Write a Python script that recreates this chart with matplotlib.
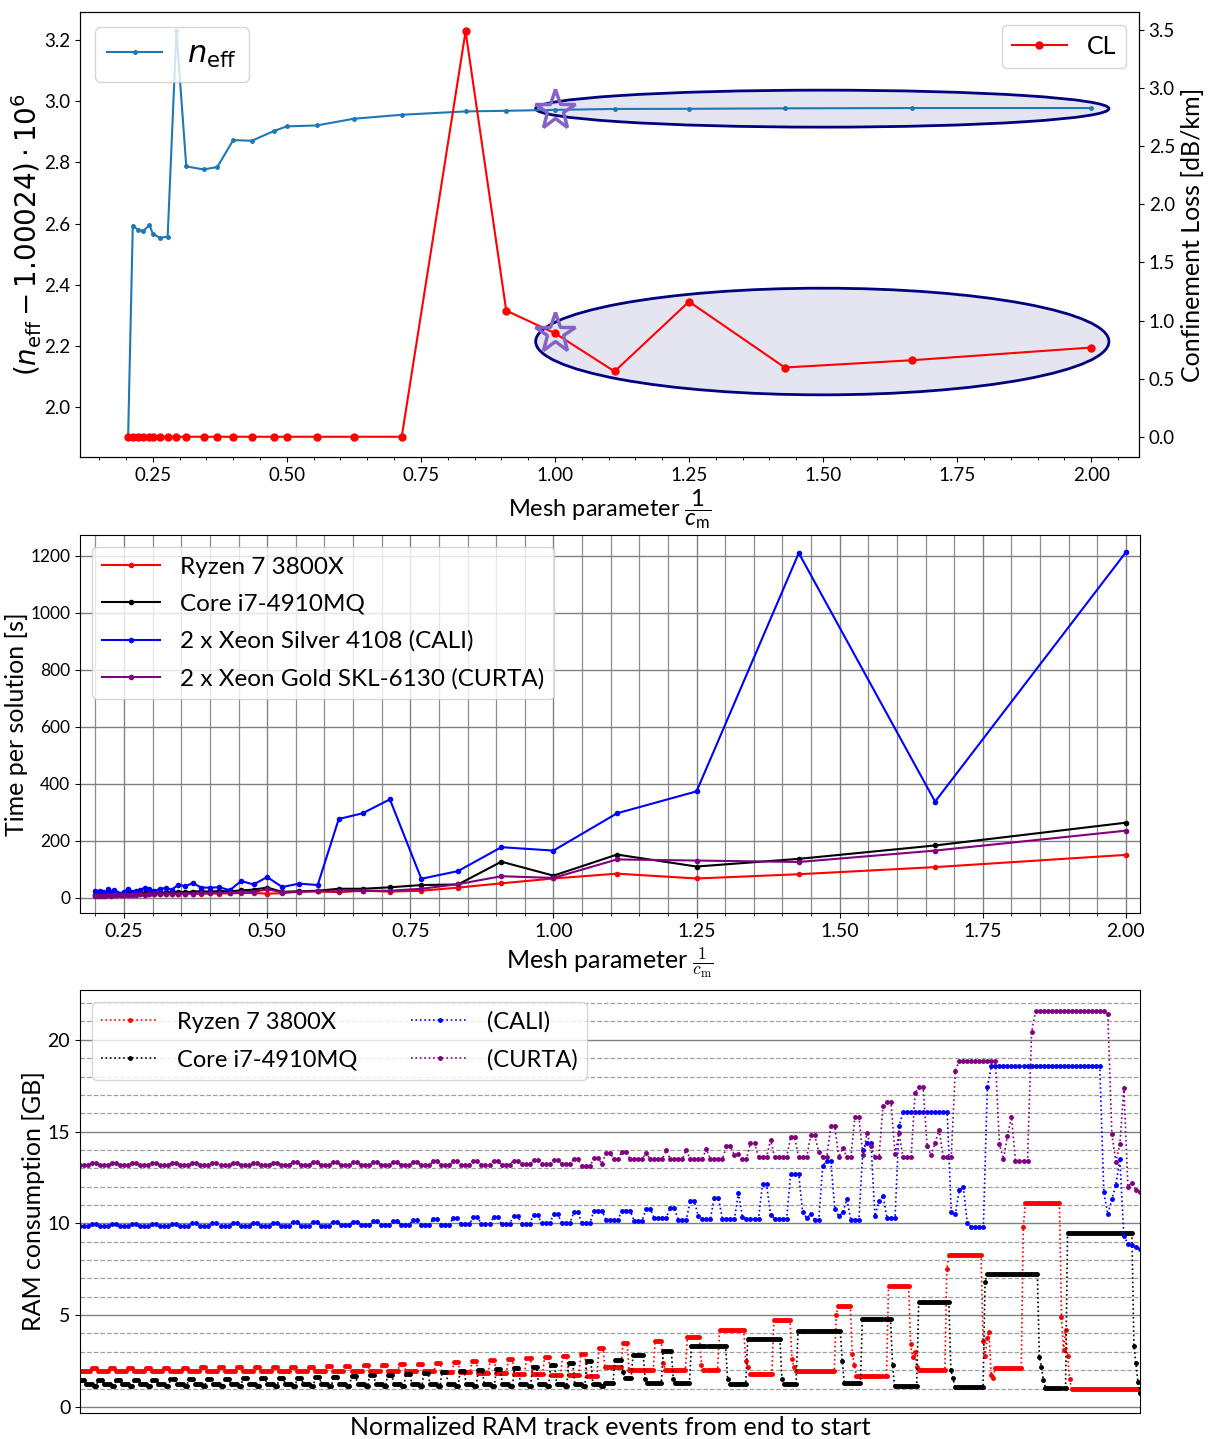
import numpy as np
import matplotlib
matplotlib.use("Agg")
import matplotlib.pyplot as plt
from matplotlib.patches import Ellipse
from matplotlib.ticker import MultipleLocator
from matplotlib.font_manager import FontProperties

plt.rcParams['font.family'] = ['Lato', 'DejaVu Sans']
plt.rcParams['mathtext.fontset'] = 'custom'
plt.rcParams['mathtext.rm'] = 'Lato'
plt.rcParams['mathtext.it'] = 'Lato:italic'
plt.rcParams['mathtext.bf'] = 'Lato:bold'

# ---------------- convergence study ----------------
cm_conv = [4.9, 4.7, 4.5, 4.3, 4.1, 4.0, 3.8, 3.6, 3.4, 3.2, 2.9, 2.7, 2.5, 2.3,
           2.1, 2.0, 1.8, 1.6, 1.4, 1.2, 1.1, 1.0, 0.9, 0.8, 0.7, 0.6, 0.5]
neff_shift = [1.904, 2.593, 2.580, 2.576, 2.595, 2.567, 2.553, 2.557, 3.230,
              2.787, 2.777, 2.785, 2.873, 2.871, 2.903, 2.918, 2.921, 2.943,
              2.956, 2.967, 2.969, 2.972, 2.975, 2.9755, 2.977, 2.978, 2.978]
cl_db_km = [0.0] * 19 + [3.49, 1.086, 0.891, 0.562, 1.163, 0.596, 0.659, 0.768]

# ---------------- benchmark: time per solution ----------------
cm_bench = [5.0, 4.9, 4.8, 4.7, 4.6, 4.5, 4.4, 4.3, 4.2, 4.1,
            4.0, 3.9, 3.8, 3.7, 3.6, 3.5, 3.4, 3.3, 3.2, 3.1,
            3.0, 2.9, 2.8, 2.7, 2.6, 2.5, 2.4, 2.3, 2.2, 2.1,
            2.0, 1.9, 1.8, 1.7, 1.6, 1.5, 1.4, 1.3, 1.2, 1.1,
            1.0, 0.9, 0.8, 0.7, 0.6, 0.5]
t_ryzen = [8, 8, 9, 8, 9, 9, 10, 9, 10, 10,
           10, 11, 10, 11, 12, 11, 12, 12, 13, 12,
           13, 13, 14, 13, 14, 15, 14, 15, 16, 16,
           14, 15, 21, 22, 19, 24, 21, 24, 35, 50,
           67, 84, 67, 82, 107, 150]
t_core = [10, 11, 10, 12, 11, 13, 12, 12, 13, 14,
          14, 15, 14, 16, 15, 17, 16, 18, 17, 18,
          19, 20, 19, 21, 22, 21, 23, 22, 25, 28,
          35, 20, 22, 24, 31, 31, 36, 44, 46, 126,
          77, 151, 109, 136, 183, 263]
t_cali = [22, 20, 22, 18, 15, 31, 20, 25, 15, 14,
          18, 31, 20, 22, 25, 35, 30, 22, 31, 33,
          28, 45, 40, 51, 35, 35, 36, 26, 58, 46,
          72, 37, 49, 44, 276, 296, 345, 66, 93, 177,
          165, 296, 373, 1210, 337, 1213]
t_curta = [6, 7, 6, 7, 7, 8, 7, 8, 8, 9,
           9, 9, 10, 10, 11, 10, 11, 12, 12, 12,
           13, 13, 14, 14, 15, 15, 16, 17, 18, 20,
           29, 19, 21, 22, 22, 24, 24, 31, 47, 75,
           69, 134, 130, 125, 165, 235]

# ---------------- RAM tracks (run-length encoded: level [GB], samples) ----------------
# early, small solves: repeated low plateau / short peak
ram_ryzen_left_base = [1.95] * 20 + [1.9, 1.9, 1.85, 1.85, 1.8, 1.8, 1.75, 1.75, 1.7]
ram_ryzen_left_peak = [2.12, 2.12, 2.13, 2.13, 2.14, 2.14, 2.15, 2.15, 2.16, 2.17,
                       2.18, 2.2, 2.2, 2.22, 2.25, 2.28, 2.3, 2.33, 2.36, 2.4,
                       2.45, 2.5, 2.55, 2.6, 2.65, 2.7, 2.8, 2.9, 3.2]
ram_core_left_peak = [1.45, 1.45, 1.46, 1.47, 1.48, 1.5, 1.5, 1.5, 1.52, 1.55,
                      1.55, 1.58, 1.6, 1.62, 1.65, 1.7, 1.72, 1.75, 1.8, 1.85,
                      1.9, 1.95, 2.0, 2.05, 2.1, 2.2, 2.3, 2.4, 2.5]
ram_core_left_base = [1.25] * 29
ram_core_left_dip = [1.12] * 29
ram_cali_left_base = [9.85, 9.85, 9.85, 9.85, 9.86, 9.86, 9.86, 9.87, 9.87, 9.87,
                      9.88, 9.88, 9.88, 9.9, 9.9, 9.9, 9.92, 9.92, 9.93, 9.95,
                      9.95, 9.97, 9.98, 10.0, 10.0, 10.0]
ram_cali_left_peak = [9.97, 9.97, 9.98, 9.98, 9.99, 10.0, 10.0, 10.0, 10.02, 10.03,
                      10.05, 10.05, 10.08, 10.1, 10.12, 10.15, 10.2, 10.25, 10.3, 10.35,
                      10.35, 10.4, 10.45, 10.5, 10.6, 10.7]
ram_curta_left_base = [13.18] * 20 + [13.2, 13.2, 13.22, 13.22, 13.25, 13.1]
ram_curta_left_peak = [13.28, 13.28, 13.28, 13.29, 13.29, 13.3, 13.3, 13.3, 13.31, 13.31,
                       13.32, 13.32, 13.33, 13.34, 13.35, 13.36, 13.37, 13.38, 13.39, 13.4,
                       13.41, 13.42, 13.43, 13.45, 13.5, 13.55]

# later, large solves
ram_ryzen_lvl = [2.2, 3.5, 2.0, 3.6, 2.4, 2.0, 3.8, 2.3, 2.0, 4.2, 2.5, 2.2, 1.8, 4.75,
                 2.6, 2.2, 1.95, 5.0, 5.5, 2.9, 2.3, 1.7, 6.6, 3.4, 2.7, 3.0, 2.2, 2.0,
                 7.5, 8.3, 3.6, 2.75, 3.75, 4.1, 1.75, 1.55, 2.1, 9.8, 11.1, 4.9, 3.1,
                 4.2, 2.8, 1.5, 1.0, 0.75]
ram_ryzen_cnt = [9, 3, 13, 4, 1, 11, 7, 1, 8, 13, 1, 1, 12, 9,
                 1, 1, 20, 1, 7, 1, 1, 16, 11, 1, 1, 1, 1, 14,
                 1, 17, 1, 1, 1, 1, 1, 1, 14, 1, 18, 1, 1,
                 1, 1, 1, 34, 1]
ram_core_lvl = [1.3, 2.55, 1.9, 1.6, 2.85, 1.5, 1.3, 3.05, 1.5, 1.3, 3.3, 1.5, 1.25,
                3.7, 1.5, 1.25, 4.15, 2.5, 1.3, 4.8, 2.3, 1.15, 5.7, 2.0, 1.6, 1.1,
                6.8, 7.25, 2.7, 2.2, 1.45, 1.05, 9.5, 3.3, 2.4, 1.35, 0.75]
ram_core_cnt = [5, 4, 1, 4, 6, 1, 8, 5, 1, 8, 18, 1, 9,
                17, 1, 7, 22, 1, 9, 15, 1, 12, 16, 1, 1, 15,
                1, 26, 1, 1, 1, 11, 33, 1, 1, 1, 1]
ram_cali_lvl = [10.7, 10.2, 10.7, 10.15, 10.8, 10.3, 10.85, 10.2, 11.2, 10.4, 10.25,
                11.4, 10.25, 11.65, 10.35, 10.25, 12.15, 10.45, 10.25, 12.7, 10.6,
                10.3, 10.5, 10.2, 13.15, 13.4, 10.8, 10.4, 10.6, 11.3, 10.2, 14.0,
                14.4, 10.4, 11.2, 11.5, 10.3, 15.3, 16.05, 10.6, 10.5, 11.8, 12.0,
                10.0, 9.8, 17.45, 18.55, 11.7, 10.5, 11.3, 12.1, 13.5, 9.3, 8.9,
                8.8, 8.7, 8.6]
ram_cali_cnt = [1, 4, 3, 3, 2, 4, 2, 3, 2, 1, 3,
                2, 4, 1, 1, 4, 2, 1, 4, 3, 1,
                1, 1, 2, 1, 2, 1, 1, 1, 1, 3, 1,
                2, 1, 1, 1, 3, 1, 12, 1, 1, 1, 1,
                1, 4, 1, 28, 1, 1, 1, 1, 1, 1, 1,
                1, 1, 1]
ram_curta_lvl = [13.25, 13.85, 13.5, 13.9, 13.5, 13.85, 13.5, 13.97, 13.5, 14.0, 13.5,
                 14.06, 13.5, 14.2, 13.7, 13.8, 13.5, 14.4, 13.6, 14.55, 13.6, 14.7,
                 13.6, 14.8, 13.9, 13.6, 15.3, 13.6, 14.1, 13.6, 15.8, 13.7, 14.9,
                 14.2, 13.6, 16.4, 16.6, 13.8, 14.9, 13.6, 17.1, 17.45, 14.2, 13.7,
                 14.4, 15.1, 13.6, 18.3, 18.85, 14.3, 13.5, 14.77, 15.8, 13.4, 20.4,
                 21.55, 21.4, 14.86, 13.37, 14.3, 17.4, 12.0, 12.2, 11.8, 11.7]
ram_curta_cnt = [1, 2, 2, 2, 4, 1, 4, 1, 4, 1, 4,
                 1, 4, 2, 1, 1, 2, 2, 3, 1, 4, 2,
                 3, 2, 1, 2, 2, 1, 1, 2, 2, 1, 1,
                 1, 2, 1, 2, 1, 1, 3, 1, 2, 1, 1,
                 1, 1, 3, 1, 10, 1, 1, 1, 1, 4, 1,
                 18, 1, 1, 1, 1, 1, 1, 1, 1, 1]


def ram_track(left_cycles, lvl, cnt):
    levels, counts = [], []
    for cycle in left_cycles:
        for level, n in cycle:
            levels.append(level)
            counts.append(n)
    levels += lvl
    counts += cnt
    y = np.repeat(levels, counts)
    return np.linspace(0.0, 1.0, len(y)), y


ryzen_cycles = [[(b, 6), (p, 3)] for b, p in zip(ram_ryzen_left_base, ram_ryzen_left_peak)]
core_cycles = [[(p, 3), (b, 4), (d, 2)] for p, b, d in
               zip(ram_core_left_peak, ram_core_left_base, ram_core_left_dip)]
cali_cycles = [[(b, 3), (p, 2)] for b, p in zip(ram_cali_left_base, ram_cali_left_peak)]
curta_cycles = [[(b, 3), (p, 2)] for b, p in zip(ram_curta_left_base, ram_curta_left_peak)]

W, H = 1210, 1439
fig = plt.figure(figsize=(W / 100, H / 100), dpi=100)

# ================= panel 1 =================
ax1 = fig.add_axes([0.0661, 0.6824, 0.8752, 0.3092])
x_conv = 1.0 / np.array(cm_conv)
ax1.add_patch(Ellipse((1.4985, 2.976), 1.069, 0.121, facecolor=(0, 0, 0.5, 0.1),
                      edgecolor='navy', lw=2, zorder=1))
ax1.add_patch(Ellipse((1.4985, 2.214), 1.069, 0.349, facecolor=(0, 0, 0.5, 0.1),
                      edgecolor='navy', lw=2, zorder=1))
ax1.plot(x_conv, neff_shift, '.-', color='tab:blue', ms=5, lw=1.5,
         label=r'$n_{\mathrm{eff}}$', zorder=2)
i_ref = cm_conv.index(1.0)
star_col = '#8463c6'
ax1.plot(x_conv[i_ref], neff_shift[i_ref], '*', ms=30, mfc='none', mec=star_col,
         mew=2.5, zorder=5)
ax1.set_xlim(0.1143, 2.089)
ax1.set_ylim(1.836, 3.292)
ax1.set_xlabel(r'Mesh parameter $\dfrac{1}{c_\mathrm{m}}$', fontsize=17, labelpad=2)
ax1.set_ylabel(r'$(n_{\mathrm{eff}}-1.00024)\cdot10^{6}$', fontsize=20,
               math_fontfamily='dejavusans')
ax1.yaxis.set_label_coords(-0.034, 0.5)
ax1.xaxis.set_minor_locator(MultipleLocator(0.05))
ax1.tick_params(labelsize=13.5)
ax1.legend(loc='upper left', prop=FontProperties(size=22, math_fontfamily='dejavusans'),
           handlelength=1.8)

ax2 = ax1.twinx()
ax2.plot(x_conv, cl_db_km, 'o-', color='red', ms=5, lw=1.5, label='CL')
ax2.plot(x_conv[i_ref], cl_db_km[i_ref], '*', ms=30, mfc='none', mec=star_col,
         mew=2.5, zorder=5)
ax2.set_ylim(-0.1745, 3.655)
ax2.set_ylabel('Confinement Loss [dB/km]', fontsize=18)
ax2.tick_params(labelsize=13.5)
ax2.legend(loc='upper right', fontsize=18, handlelength=2.2)

# ================= panel 2 =================
ax3 = fig.add_axes([0.0661, 0.3655, 0.876, 0.2627])
x_bench = 1.0 / np.array(cm_bench)
ax3.plot(x_bench, t_ryzen, '.-', color='red', ms=6, lw=1.5, label='Ryzen 7 3800X')
ax3.plot(x_bench, t_core, '.-', color='black', ms=6, lw=1.5, label='Core i7-4910MQ')
ax3.plot(x_bench, t_cali, '.-', color='blue', ms=6, lw=1.5,
         label='2 x Xeon Silver 4108 (CALI)')
ax3.plot(x_bench, t_curta, '.-', color='purple', ms=6, lw=1.5,
         label='2 x Xeon Gold SKL-6130 (CURTA)')
ax3.set_xlim(0.173, 2.0245)
ax3.xaxis.set_major_locator(MultipleLocator(0.25))
ax3.xaxis.set_minor_locator(MultipleLocator(0.05))
ax3.grid(which='major', color='#808080', lw=1.0)
ax3.grid(which='minor', axis='x', color='#8c8c8c', lw=0.9)
ax3.set_axisbelow(True)
ax3.tick_params(axis='x', labelsize=14)
ax3.tick_params(axis='y', labelsize=12.5)
ax3.set_ylabel('Time per solution [s]', fontsize=18)
ax3.yaxis.set_label_coords(-0.049, 0.5)
ax3.set_xlabel(r'Mesh parameter $\frac{1}{c_\mathrm{m}}$', fontsize=18, math_fontfamily='cm')
ax3.legend(loc='upper left', fontsize=17.5, handlelength=2.4, labelspacing=0.65)

# ================= panel 3 =================
ax4 = fig.add_axes([0.0661, 0.0181, 0.876, 0.294])
tracks = [
    (ryzen_cycles, ram_ryzen_lvl, ram_ryzen_cnt, 'red', 'Ryzen 7 3800X'),
    (core_cycles, ram_core_lvl, ram_core_cnt, 'black', 'Core i7-4910MQ'),
    (cali_cycles, ram_cali_lvl, ram_cali_cnt, 'blue', '(CALI)'),
    (curta_cycles, ram_curta_lvl, ram_curta_cnt, 'purple', '(CURTA)'),
]
for cyc, lvl, cnt, col, lab in tracks:
    xs, ys = ram_track(cyc, lvl, cnt)
    ax4.plot(xs, ys, ':', marker='.', color=col, ms=5, lw=1.2, label=lab)
ax4.set_xlim(0, 1)
ax4.set_ylim(-0.33, 22.72)
ax4.set_xticks([])
ax4.yaxis.set_major_locator(MultipleLocator(5))
ax4.yaxis.set_minor_locator(MultipleLocator(1))
ax4.grid(which='major', axis='y', color='#808080', lw=1.0)
ax4.grid(which='minor', axis='y', color='#a0a0a0', lw=0.9, ls='--')
ax4.set_axisbelow(True)
ax4.tick_params(labelsize=14)
ax4.tick_params(which='minor', length=0)
ax4.set_ylabel('RAM consumption [GB]', fontsize=18)
ax4.yaxis.set_label_coords(-0.033, 0.5)
ax4.set_xlabel('Normalized RAM track events from end to start', fontsize=18, labelpad=2)
ax4.legend(loc='upper left', ncol=2, fontsize=17, handlelength=2.4, labelspacing=0.7,
           columnspacing=2.3)

fig.savefig('out.png', dpi=100)
